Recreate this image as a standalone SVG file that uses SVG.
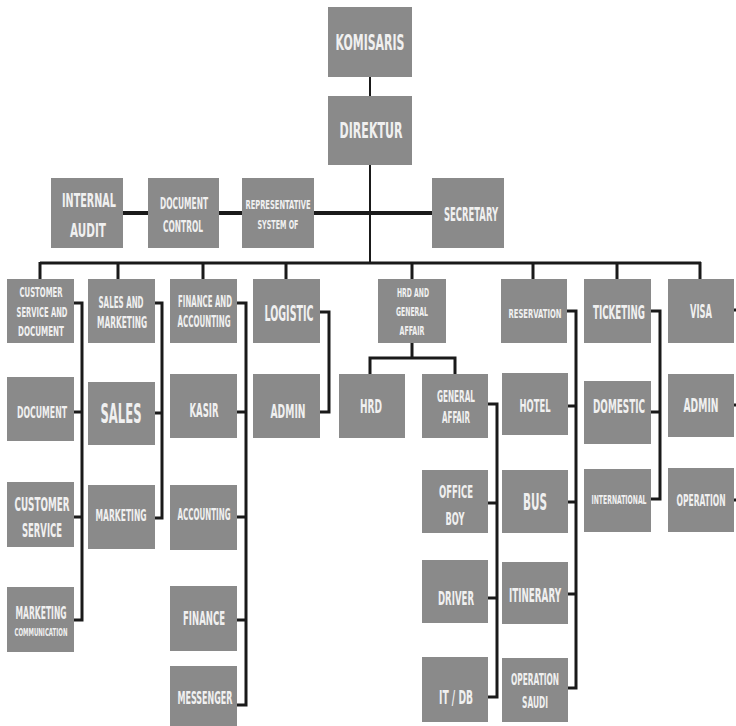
<svg xmlns="http://www.w3.org/2000/svg" width="736" height="726" viewBox="0 0 736 726">
<style>
.b{fill:#8a8a8a}
text{font-family:"Liberation Sans Narrow","DejaVu Sans Condensed","Liberation Sans",sans-serif;font-weight:bold;fill:#f0f0f0;text-anchor:middle}
.c{stroke:#1a1a1a;stroke-width:3;fill:none;stroke-linejoin:miter}
.t{stroke:#1a1a1a;stroke-width:2;fill:none}
.k{stroke:#1a1a1a;stroke-width:4;fill:none}
</style>
<rect width="736" height="726" fill="#ffffff"/>
<g id="connectors">
<path class="t" d="M370 77V96M370 165V263"/>
<path class="k" d="M123 213H432"/>
<path class="c" d="M40 263H701M40 262V279M118 262V279M203 262V279M286 262V279M412 262V279M533 262V279M617 262V279M700 262V279"/>
<path class="c" d="M74 303H82V620H74M74 412H82M74 517H82"/>
<path class="c" d="M155 303H162V518H155M155 413H162"/>
<path class="c" d="M237 303H246V705H237M237 412H246M237 517H246M237 620H246"/>
<path class="c" d="M320 312H329V412H320"/>
<path class="c" d="M412 343V358M370 374V358H455V374"/>
<path class="c" d="M488 404H497V697H488M488 503H497M488 598H497"/>
<path class="c" d="M567 311H576V688H568M568 406H576M568 502H576M568 594H576"/>
<path class="c" d="M651 311H660V499H651M651 412H660"/>
<path class="c" d="M734 310H736M734 405H736M734 500H736"/>
</g>
<g id="komisaris"><rect class="b" x="328" y="7" width="84" height="70"/><text x="370" y="50" font-size="21" textLength="69" lengthAdjust="spacingAndGlyphs">KOMISARIS</text></g>
<g id="direktur"><rect class="b" x="328" y="96" width="84" height="69"/><text x="371" y="138" font-size="22" textLength="63" lengthAdjust="spacingAndGlyphs">DIREKTUR</text></g>
<g id="internal-audit"><rect class="b" x="51" y="178" width="72" height="70"/><text x="89" y="207" font-size="19" textLength="54" lengthAdjust="spacingAndGlyphs">INTERNAL</text><text x="88" y="237" font-size="19" textLength="36" lengthAdjust="spacingAndGlyphs">AUDIT</text></g>
<g id="document-control"><rect class="b" x="148" y="178" width="71" height="70"/><text x="184" y="209" font-size="16" textLength="48" lengthAdjust="spacingAndGlyphs">DOCUMENT</text><text x="183" y="232" font-size="16" textLength="40" lengthAdjust="spacingAndGlyphs">CONTROL</text></g>
<g id="representative"><rect class="b" x="242" y="178" width="72" height="70"/><text x="278" y="209" font-size="13" textLength="65" lengthAdjust="spacingAndGlyphs">REPRESENTATIVE</text><text x="278" y="229" font-size="13" textLength="41" lengthAdjust="spacingAndGlyphs">SYSTEM OF</text></g>
<g id="secretary"><rect class="b" x="432" y="178" width="72" height="70"/><text x="471" y="221" font-size="20" textLength="54" lengthAdjust="spacingAndGlyphs">SECRETARY</text></g>

<g id="cs-document"><rect class="b" x="7" y="279" width="67" height="64"/><text x="41" y="297" font-size="14" textLength="43" lengthAdjust="spacingAndGlyphs">CUSTOMER</text><text x="42" y="317" font-size="14" textLength="51" lengthAdjust="spacingAndGlyphs">SERVICE AND</text><text x="41" y="336" font-size="14" textLength="46" lengthAdjust="spacingAndGlyphs">DOCUMENT</text></g>
<g id="document"><rect class="b" x="7" y="377" width="67" height="64"/><text x="42" y="418" font-size="16" textLength="50" lengthAdjust="spacingAndGlyphs">DOCUMENT</text></g>
<g id="customer-service"><rect class="b" x="7" y="482" width="67" height="65"/><text x="42" y="511" font-size="19" textLength="55" lengthAdjust="spacingAndGlyphs">CUSTOMER</text><text x="42" y="537" font-size="19" textLength="40" lengthAdjust="spacingAndGlyphs">SERVICE</text></g>
<g id="marketing-communication"><rect class="b" x="7" y="587" width="67" height="65"/><text x="41" y="619" font-size="18" textLength="51" lengthAdjust="spacingAndGlyphs">MARKETING</text><text x="41" y="636" font-size="10" textLength="53" lengthAdjust="spacingAndGlyphs">COMMUNICATION</text></g>

<g id="sales-marketing"><rect class="b" x="88" y="279" width="67" height="64"/><text x="121" y="308" font-size="16" textLength="45" lengthAdjust="spacingAndGlyphs">SALES AND</text><text x="122" y="328" font-size="16" textLength="50" lengthAdjust="spacingAndGlyphs">MARKETING</text></g>
<g id="sales"><rect class="b" x="88" y="382" width="67" height="63"/><text x="121" y="423" font-size="27" textLength="41" lengthAdjust="spacingAndGlyphs">SALES</text></g>
<g id="marketing"><rect class="b" x="88" y="485" width="67" height="64"/><text x="121" y="521" font-size="16" textLength="51" lengthAdjust="spacingAndGlyphs">MARKETING</text></g>

<g id="finance-accounting"><rect class="b" x="170" y="279" width="67" height="64"/><text x="205" y="307" font-size="15" textLength="54" lengthAdjust="spacingAndGlyphs">FINANCE AND</text><text x="204" y="327" font-size="15" textLength="53" lengthAdjust="spacingAndGlyphs">ACCOUNTING</text></g>
<g id="kasir"><rect class="b" x="170" y="374" width="67" height="64"/><text x="204" y="417" font-size="20" textLength="29" lengthAdjust="spacingAndGlyphs">KASIR</text></g>
<g id="accounting"><rect class="b" x="170" y="485" width="67" height="65"/><text x="204" y="520" font-size="15" textLength="53" lengthAdjust="spacingAndGlyphs">ACCOUNTING</text></g>
<g id="finance"><rect class="b" x="170" y="586" width="67" height="65"/><text x="204" y="625" font-size="20" textLength="42" lengthAdjust="spacingAndGlyphs">FINANCE</text></g>
<g id="messenger"><rect class="b" x="170" y="666" width="67" height="60"/><text x="205" y="704" font-size="18" textLength="55" lengthAdjust="spacingAndGlyphs">MESSENGER</text></g>

<g id="logistic"><rect class="b" x="253" y="279" width="67" height="64"/><text x="289" y="321" font-size="21" textLength="49" lengthAdjust="spacingAndGlyphs">LOGISTIC</text></g>
<g id="admin-logistic"><rect class="b" x="253" y="374" width="67" height="64"/><text x="288" y="418" font-size="20" textLength="35" lengthAdjust="spacingAndGlyphs">ADMIN</text></g>

<g id="hrd-general-affair"><rect class="b" x="378" y="279" width="68" height="64"/><text x="413" y="297" font-size="12" textLength="32" lengthAdjust="spacingAndGlyphs">HRD AND</text><text x="412" y="316" font-size="12" textLength="32" lengthAdjust="spacingAndGlyphs">GENERAL</text><text x="412" y="335" font-size="12" textLength="25" lengthAdjust="spacingAndGlyphs">AFFAIR</text></g>
<g id="hrd"><rect class="b" x="339" y="374" width="66" height="64"/><text x="371" y="413" font-size="19" textLength="22" lengthAdjust="spacingAndGlyphs">HRD</text></g>
<g id="general-affair"><rect class="b" x="422" y="374" width="66" height="64"/><text x="456" y="402" font-size="16" textLength="38" lengthAdjust="spacingAndGlyphs">GENERAL</text><text x="456" y="423" font-size="16" textLength="28" lengthAdjust="spacingAndGlyphs">AFFAIR</text></g>
<g id="office-boy"><rect class="b" x="422" y="470" width="66" height="63"/><text x="456" y="498" font-size="18" textLength="34" lengthAdjust="spacingAndGlyphs">OFFICE</text><text x="455" y="525" font-size="18" textLength="19" lengthAdjust="spacingAndGlyphs">BOY</text></g>
<g id="driver"><rect class="b" x="422" y="560" width="66" height="63"/><text x="456" y="605" font-size="19" textLength="36" lengthAdjust="spacingAndGlyphs">DRIVER</text></g>
<g id="it-db"><rect class="b" x="422" y="657" width="66" height="65"/><text x="456" y="704" font-size="19" textLength="34" lengthAdjust="spacingAndGlyphs">IT / DB</text></g>

<g id="reservation"><rect class="b" x="501" y="279" width="66" height="64"/><text x="535" y="318" font-size="13" textLength="53" lengthAdjust="spacingAndGlyphs">RESERVATION</text></g>
<g id="hotel"><rect class="b" x="502" y="373" width="66" height="62"/><text x="535" y="412" font-size="17" textLength="31" lengthAdjust="spacingAndGlyphs">HOTEL</text></g>
<g id="bus"><rect class="b" x="502" y="470" width="66" height="63"/><text x="535" y="510" font-size="23" textLength="24" lengthAdjust="spacingAndGlyphs">BUS</text></g>
<g id="itinerary"><rect class="b" x="502" y="562" width="66" height="62"/><text x="535" y="602" font-size="19" textLength="52" lengthAdjust="spacingAndGlyphs">ITINERARY</text></g>
<g id="operation-saudi"><rect class="b" x="502" y="658" width="66" height="64"/><text x="535" y="685" font-size="16" textLength="48" lengthAdjust="spacingAndGlyphs">OPERATION</text><text x="535" y="708" font-size="16" textLength="26" lengthAdjust="spacingAndGlyphs">SAUDI</text></g>

<g id="ticketing"><rect class="b" x="584" y="279" width="67" height="64"/><text x="619" y="319" font-size="20" textLength="52" lengthAdjust="spacingAndGlyphs">TICKETING</text></g>
<g id="domestic"><rect class="b" x="584" y="381" width="67" height="63"/><text x="619" y="413" font-size="20" textLength="52" lengthAdjust="spacingAndGlyphs">DOMESTIC</text></g>
<g id="international"><rect class="b" x="584" y="469" width="67" height="63"/><text x="619" y="504" font-size="12" textLength="55" lengthAdjust="spacingAndGlyphs">INTERNATIONAL</text></g>

<g id="visa"><rect class="b" x="668" y="279" width="66" height="64"/><text x="701" y="318" font-size="19" textLength="22" lengthAdjust="spacingAndGlyphs">VISA</text></g>
<g id="admin-visa"><rect class="b" x="668" y="374" width="66" height="63"/><text x="701" y="412" font-size="19" textLength="35" lengthAdjust="spacingAndGlyphs">ADMIN</text></g>
<g id="operation"><rect class="b" x="668" y="468" width="66" height="64"/><text x="701" y="506" font-size="16" textLength="49" lengthAdjust="spacingAndGlyphs">OPERATION</text></g>
</svg>
